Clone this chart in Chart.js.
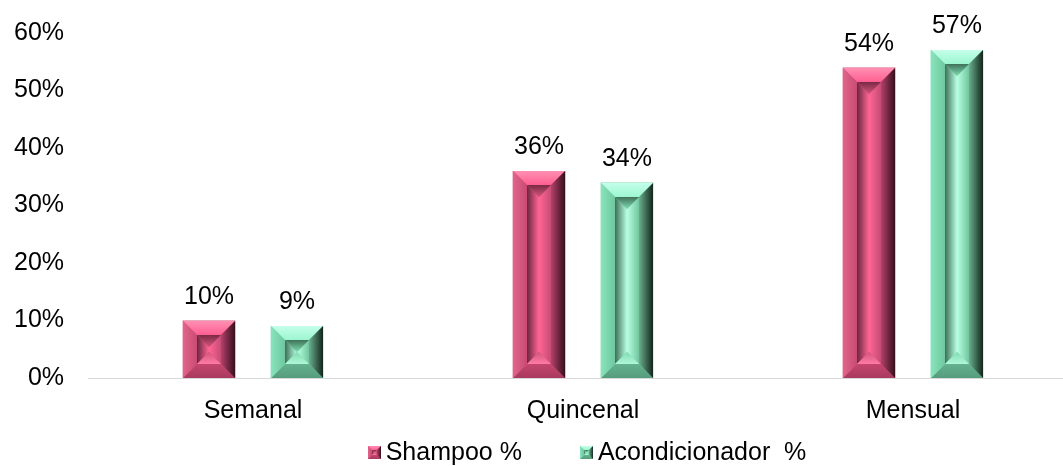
<!DOCTYPE html>
<html>
<head>
<meta charset="utf-8">
<style>
  body { margin: 0; background: #fff; overflow: hidden; }
  #wrap { width: 1063px; height: 466px; overflow: hidden; }
</style>
<script src="https://cdn.jsdelivr.net/npm/chart.js@4/dist/chart.umd.min.js"></script>
</head>
<body>
<div id="wrap"><canvas id="chart" width="1080" height="466"></canvas></div>
<script>
const categories = ["Semanal", "Quincenal", "Mensual"];
const shampoo = [10, 36, 54];
const acondicionador = [9, 34, 57];
const seriesNames = ["Shampoo %", "Acondicionador  %"];
const yTicks = [0, 10, 20, 30, 40, 50, 60];

const FONT = "'Liberation Sans', Arial, sans-serif";
const FSIZE = 25;

const palettes = [
  { // pink
    base: "#d4547c",
    top: ["#ff8fb3", "#ff5f91"],
    left: ["#e0648b", "#c94b73"],
    right: ["#b4406a", "#36101d"],
    bottom: ["#c4466e", "#a93a5f"],
    inTop: "#7a2a45",
    inBottom: "#ff7ba6",
    inLeft: ["#6a2640", "#ff6594"],
    inRight: ["#ff6594", "#c54c76"]
  },
  { // green
    base: "#7edcb0",
    top: ["#c4ffea", "#9cf6d0"],
    left: ["#88e4bb", "#6ec79f"],
    right: ["#6aae8e", "#13261c"],
    bottom: ["#64b28e", "#569c7d"],
    inTop: "#3f7259",
    inBottom: "#b0f8d8",
    inLeft: ["#3c6e56", "#b8ffe3"],
    inRight: ["#b8ffe3", "#72c69e"]
  }
];

function poly(ctx, pts, fill) {
  ctx.beginPath();
  ctx.moveTo(pts[0][0], pts[0][1]);
  for (let i = 1; i < pts.length; i++) ctx.lineTo(pts[i][0], pts[i][1]);
  ctx.closePath();
  ctx.fillStyle = fill;
  ctx.fill();
}
function lin(ctx, x0, y0, x1, y1, c0, c1) {
  const g = ctx.createLinearGradient(x0, y0, x1, y1);
  g.addColorStop(0, c0);
  g.addColorStop(1, c1);
  return g;
}

function bevelBar(ctx, L, T, R, B, pal, bev) {
  const w = R - L, h = B - T;
  if (w <= 0 || h <= 0) return;
  const b = Math.min(bev, w / 2, h / 2);
  ctx.fillStyle = pal.base;
  ctx.fillRect(L, T, w, h);
  poly(ctx, [[L, T], [R, T], [R - b, T + b], [L + b, T + b]], lin(ctx, 0, T, 0, T + b, pal.top[0], pal.top[1]));
  poly(ctx, [[L, B], [R, B], [R - b, B - b], [L + b, B - b]], lin(ctx, 0, B - b, 0, B, pal.bottom[0], pal.bottom[1]));
  poly(ctx, [[L, T], [L + b, T + b], [L + b, B - b], [L, B]], lin(ctx, L, 0, L + b, 0, pal.left[0], pal.left[1]));
  poly(ctx, [[R, T], [R - b, T + b], [R - b, B - b], [R, B]], lin(ctx, R - b, 0, R, 0, pal.right[0], pal.right[1]));
  const iL = L + b, iR = R - b, iT = T + b, iB = B - b;
  const iw = iR - iL, ih = iB - iT;
  if (iw <= 1 || ih <= 1) return;
  const c = Math.min(iw / 2, ih / 2);
  const mid = (iL + iR) / 2;
  poly(ctx, [[iL, iT], [iL + c, iT + c], [iL + c, iB - c], [iL, iB]], lin(ctx, iL, 0, mid, 0, pal.inLeft[0], pal.inLeft[1]));
  poly(ctx, [[iR, iT], [iR - c, iT + c], [iR - c, iB - c], [iR, iB]], lin(ctx, mid, 0, iR, 0, pal.inRight[0], pal.inRight[1]));
  if (iw - 2 * c > 0.5) {
    ctx.fillStyle = lin(ctx, iL + c, 0, iR - c, 0, pal.inLeft[1], pal.inRight[0]);
    ctx.fillRect(iL + c, iT + c, iw - 2 * c, ih - 2 * c);
  }
  poly(ctx, [[iL, iT], [iR, iT], [iR - c, iT + c], [iL + c, iT + c]], lin(ctx, 0, iT, 0, iT + c, pal.inTop, pal.base));
  poly(ctx, [[iL, iB], [iR, iB], [iR - c, iB - c], [iL + c, iB - c]], lin(ctx, 0, iB - c, 0, iB, pal.base, pal.inBottom));
}

const bevelPlugin = {
  id: "bevel",
  afterDatasetsDraw(chart) {
    const ctx = chart.ctx;
    ctx.save();
    chart.data.datasets.forEach((ds, di) => {
      const meta = chart.getDatasetMeta(di);
      meta.data.forEach((bar, i) => {
        const p = bar.getProps(["x", "y", "base", "width"], true);
        const L = Math.round(p.x - p.width / 2), R = Math.round(p.x + p.width / 2);
        bevelBar(ctx, L, Math.round(p.y), R, Math.round(p.base), palettes[di], 14);
        ctx.fillStyle = "#000";
        ctx.font = FSIZE + "px " + FONT;
        ctx.textAlign = "center";
        ctx.textBaseline = "alphabetic";
        ctx.fillText(ds.data[i] + "%", p.x, p.y - 17);
      });
    });
    ctx.restore();
  }
};

// legend drawn below the x axis, centred on the plot area
const legendPlugin = {
  id: "bevelLegend",
  afterDraw(chart) {
    const ctx = chart.ctx;
    const area = chart.chartArea;
    ctx.save();
    ctx.font = FSIZE + "px " + FONT;
    ctx.textBaseline = "middle";
    ctx.textAlign = "left";
    const box = 13, gap = 5, between = 58;
    const widths = seriesNames.map(s => ctx.measureText(s).width);
    const total = widths.reduce((a, w) => a + box + gap + w, 0) + between;
    let x = (area.left + area.right) / 2 + 4 - total / 2;
    const y = 452;
    seriesNames.forEach((s, i) => {
      bevelBar(ctx, Math.round(x), Math.round(y - box / 2), Math.round(x) + box, Math.round(y - box / 2) + box, palettes[i], 4);
      ctx.fillStyle = "#000";
      ctx.fillText(s, x + box + gap, y + 1);
      x += box + gap + widths[i] + between;
    });
    ctx.restore();
  }
};

new Chart(document.getElementById("chart"), {
  type: "bar",
  data: {
    labels: categories,
    datasets: [
      { label: seriesNames[0], data: shampoo, backgroundColor: palettes[0].base },
      { label: seriesNames[1], data: acondicionador, backgroundColor: palettes[1].base }
    ]
  },
  options: {
    responsive: false,
    animation: false,
    events: [],
    categoryPercentage: 0.533,
    barPercentage: 0.6,
    layout: { padding: { top: 0, right: 2, left: -10, bottom: 22 } },
    scales: {
      x: {
        grid: { display: false, drawTicks: false },
        border: { display: true, color: "#d9d9d9", width: 1 },
        ticks: { color: "#000", font: { family: FONT, size: FSIZE }, padding: 18, maxRotation: 0 }
      },
      y: {
        min: 0,
        max: 60,
        afterBuildTicks(scale) { scale.ticks = yTicks.map(v => ({ value: v })); },
        afterFit(scale) { scale.paddingTop = 33; },
        grid: { display: false, drawTicks: false },
        border: { display: false },
        ticks: { color: "#000", font: { family: FONT, size: FSIZE }, padding: 24, callback: v => v + "%" }
      }
    },
    plugins: {
      legend: { display: false },
      tooltip: { enabled: false }
    }
  },
  plugins: [bevelPlugin, legendPlugin]
});
</script>
</body>
</html>
